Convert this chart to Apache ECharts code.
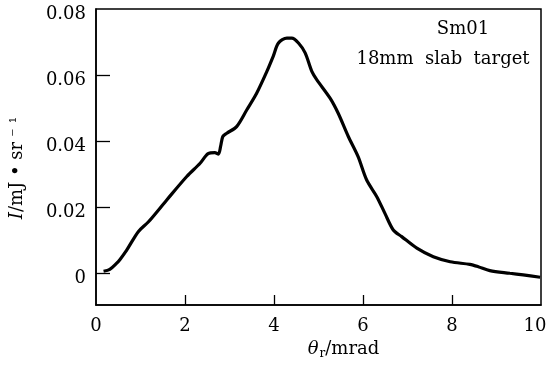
<!DOCTYPE html>
<html>
<head>
<meta charset="utf-8">
<script src="https://cdn.jsdelivr.net/npm/echarts@6/dist/echarts.min.js"></script>
<style>html,body{margin:0;padding:0;background:#fff}#c{width:548px;height:366px}</style>
</head>
<body>
<div id="c"></div>
<script>
var thetaValues = [0.17,0.31,0.46,0.54,0.69,0.95,1.18,1.59,2.04,2.34,2.52,2.67,2.75,2.80,2.85,2.94,3.16,3.39,3.61,3.84,3.98,4.10,4.29,4.40,4.55,4.70,4.85,4.96,5.26,5.44,5.67,5.89,6.08,6.31,6.49,6.68,6.87,7.21,7.58,7.96,8.40,8.59,8.85,9.30,9.60,9.98];
var intensityValues = [0.0006,0.0012,0.0030,0.0042,0.0070,0.0126,0.0156,0.0222,0.0293,0.0333,0.0362,0.0365,0.0361,0.0384,0.0414,0.0424,0.0444,0.0495,0.0545,0.0611,0.0656,0.0697,0.0712,0.0712,0.0697,0.0667,0.0611,0.0586,0.0530,0.0485,0.0414,0.0353,0.0283,0.0232,0.0182,0.0131,0.0111,0.0076,0.0050,0.0035,0.0027,0.0020,0.0008,0.0000,-0.0005,-0.0012];
var xTickLabels = [0,2,4,6,8,10];
var xInnerTicks = [2,4,6,8];
var yTickLabels = [0,0.02,0.04,0.06,0.08];
var yInnerTicks = [0,0.02,0.04,0.06];
var annotationLines = ['Sm01','18mm  slab  target'];

var serif = '"DejaVu Serif", "Liberation Serif", serif';
var data = thetaValues.map(function(x,i){return [x,intensityValues[i]];});
var chart = echarts.init(document.getElementById('c'));
chart.setOption({
  animation:false,
  backgroundColor:'#fff',
  grid:{left:96,right:7,top:9,bottom:61,outerBoundsMode:'none',containLabel:false,
        show:true,borderColor:'#000',borderWidth:1.5,backgroundColor:'transparent'},
  xAxis:{
    type:'value',min:0,max:10,
    axisLine:{show:true,onZero:false,lineStyle:{color:'#000',width:1.5}},
    splitLine:{show:false},
    axisTick:{show:true,inside:true,length:10,lineStyle:{color:'#000',width:1.3},customValues:xInnerTicks},
    axisLabel:{color:'#000',fontFamily:serif,fontSize:18,margin:12,customValues:xTickLabels,
      formatter:function(v){return v===10?'{e|10}':String(v);},
      rich:{e:{fontFamily:serif,fontSize:18,color:'#000',padding:[0,12,0,0]}}},
    name:'{t|θ}{s|r}{n|/mrad}',nameLocation:'middle',nameGap:31,
    nameTextStyle:{padding:[0,0,0,50],rich:{
      t:{fontFamily:serif,fontStyle:'italic',fontSize:18,color:'#000'},
      s:{fontFamily:serif,fontSize:12,color:'#000',padding:[10,0,0,1]},
      n:{fontFamily:serif,fontSize:18,color:'#000'}
    }}
  },
  yAxis:{
    type:'value',min:-0.0096,max:0.08,
    axisLine:{show:true,onZero:false,lineStyle:{color:'#000',width:1.5}},
    splitLine:{show:false},
    axisTick:{show:true,inside:true,length:14,lineStyle:{color:'#000',width:1.3},customValues:yInnerTicks},
    axisLabel:{color:'#000',fontFamily:serif,fontSize:18,margin:10,verticalAlign:'top',lineHeight:11,
      customValues:yTickLabels,formatter:function(v){return v===0?'0':v.toFixed(2);}},
    name:'{i|I}{n|/mJ • sr}{p| ⁻ ¹}',nameLocation:'middle',nameGap:70,nameRotate:90,
    nameTextStyle:{padding:[0,22,0,0],rich:{
      i:{fontFamily:serif,fontStyle:'italic',fontSize:18,color:'#000'},
      n:{fontFamily:serif,fontSize:18,color:'#000'},
      p:{fontFamily:serif,fontSize:16,color:'#000'}
    }}
  },
  graphic:[
    {type:'text',x:463,y:20,style:{text:annotationLines[0],font:'18px '+serif,fill:'#000',textAlign:'center'}},
    {type:'text',x:443,y:50,style:{text:annotationLines[1],font:'18px '+serif,fill:'#000',textAlign:'center'}}
  ],
  series:[{
    type:'line',data:data,showSymbol:false,smooth:0.3,
    lineStyle:{color:'#000',width:3.2},
    clip:false
  }]
});
</script>
</body>
</html>
